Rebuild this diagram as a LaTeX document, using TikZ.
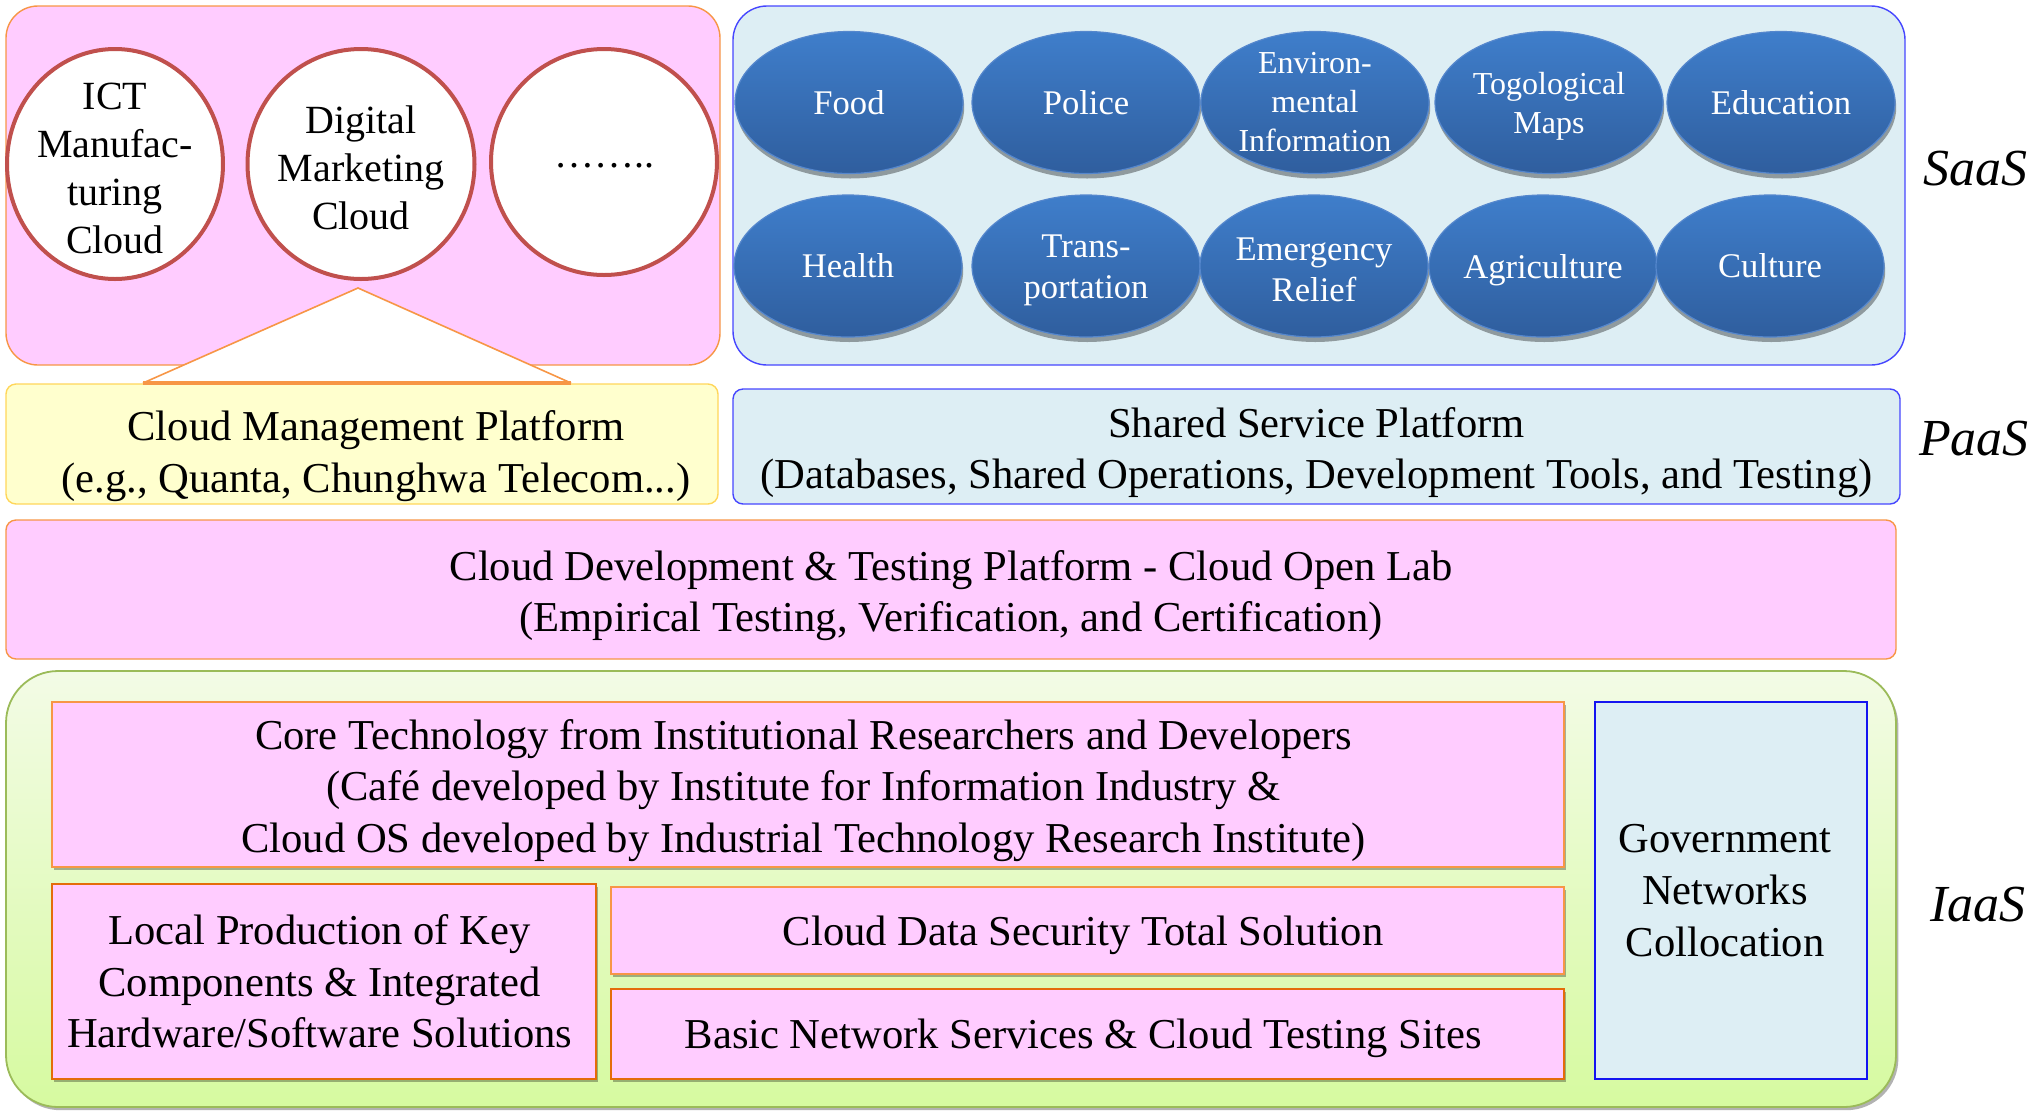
\documentclass[tikz,border=0pt]{standalone}
\usepackage{fontspec}
\setmainfont{Liberation Serif}
\usetikzlibrary{shapes.geometric,shadows,calc}
\definecolor{pinkfill}{RGB}{255,204,255}
\definecolor{orangeline}{RGB}{247,150,70}
\definecolor{darkorange}{RGB}{228,108,10}
\definecolor{yellowfill}{RGB}{255,255,206}
\definecolor{yellowline}{RGB}{255,214,90}
\definecolor{bluefill}{RGB}{221,238,244}
\definecolor{blueline}{RGB}{70,70,255}
\definecolor{elltop}{RGB}{63,126,203}
\definecolor{ellbot}{RGB}{47,94,158}
\definecolor{ellline}{RGB}{85,135,205}
\definecolor{circline}{RGB}{192,80,77}
\definecolor{greentop}{RGB}{243,251,230}
\definecolor{greenbot}{RGB}{214,250,160}
\definecolor{greenline}{RGB}{155,187,89}
\definecolor{govline}{RGB}{20,20,240}
\begin{document}
\begin{tikzpicture}[x=0.5pt,y=-0.5pt,
  txt/.style={font=\fontsize{21.3}{25.8}\selectfont, align=center, text=black},
  boxtext/.style={txt, xshift=-2.2pt, yshift=-3pt},
  pinkbox/.style={rectangle, draw=orangeline, fill=pinkfill, line width=0.7pt, inner sep=0pt},
  bluebox/.style={rectangle, draw=blueline, fill=bluefill, line width=0.7pt, inner sep=0pt},
  yellowbox/.style={rectangle, draw=yellowline, fill=yellowfill, line width=0.7pt, inner sep=0pt},
  softshadow/.style={drop shadow={shadow xshift=0.8pt, shadow yshift=-1.6pt, opacity=0.3, fill=black}},
  cloudcirc/.style={ellipse, draw=circline, line width=2pt, fill=white, inner sep=0pt},
  circtext/.style={font=\fontsize{20}{24}\selectfont, align=center, text=black, yshift=-2pt},
  svc/.style={ellipse, draw=ellline, line width=0.6pt, top color=elltop, bottom color=ellbot,
    minimum width=114pt, minimum height=71pt, inner sep=0pt,
    drop shadow={shadow xshift=0.6pt, shadow yshift=-2.5pt, opacity=0.35, fill=black}},
  svctext/.style={font=\fontsize{17.3}{20.5}\selectfont, align=center, text=white},
  svcsmall/.style={font=\fontsize{16}{19.5}\selectfont, align=center, text=white},
  layer/.style={font=\fontsize{26}{30}\selectfont\itshape, text=black}
]
\useasboundingbox (0,0) rectangle (2035,1110);

% ---------- SaaS ----------
\node[pinkbox, rounded corners=16pt, minimum width=357pt, minimum height=179.5pt] (saaspink) at (363,185.5) {};
\node[bluebox, rounded corners=17pt, minimum width=586pt, minimum height=179.5pt] (saasblue) at (1319,185.5) {};

\node[cloudcirc, minimum width=108pt, minimum height=115pt,
  label={[circtext]center:{ICT\\Manufac-\\turing\\Cloud}}] (ict) at (115,164) {};
\node[cloudcirc, minimum width=113.5pt, minimum height=115pt,
  label={[circtext]center:{Digital\\Marketing\\Cloud}}] (digital) at (361,164) {};
\node[cloudcirc, minimum width=113pt, minimum height=113pt,
  label={[circtext]center:{……..}}] (more) at (604,162) {};

\node[svc, label={[svctext]center:{Food}}] (food) at (849,102.5) {};
\node[svc, label={[svctext]center:{Police}}] (police) at (1086,102.5) {};
\node[svc, label={[svcsmall]center:{Environ-\\mental\\Information}}] (environ) at (1315,102.5) {};
\node[svc, label={[svcsmall, yshift=-2pt]center:{Togological\\Maps}}] (maps) at (1549,102.5) {};
\node[svc, label={[svctext]center:{Education}}] (education) at (1781,102.5) {};

\node[svc, label={[svctext]center:{Health}}] (health) at (848,266) {};
\node[svc, label={[svctext, yshift=-2pt]center:{Trans-\\portation}}] (transport) at (1086,266) {};
\node[svc, label={[svctext, yshift=-2pt]center:{Emergency\\Relief}}] (emergency) at (1314,266) {};
\node[svc, label={[svctext, yshift=-2pt]center:{Agriculture}}] (agri) at (1543,266) {};
\node[svc, label={[svctext]center:{Culture}}] (culture) at (1770,266) {};

\node[layer] (saas) at (1975,169) {SaaS};

% ---------- PaaS ----------
\node[yellowbox, rounded corners=5pt, minimum width=356pt, minimum height=60pt] (cmp) at (362,444) {};
\node[txt] (cmptext) at (376,456) {Cloud Management Platform\\(e.g., Quanta, Chunghwa Telecom...)};

\coordinate (apex) at ($(digital.south)+(-3,7)$);
\coordinate (trileft) at (143,383);
\coordinate (triright) at (571,383);
\fill[white] (apex) -- (trileft) -- (triright) -- cycle;
\draw[orangeline, line width=0.8pt] (trileft) -- (apex) -- (triright);
\draw[orangeline, line width=1.6pt] (trileft) -- (triright);

\node[bluebox, rounded corners=5pt, minimum width=583.5pt, minimum height=57.5pt,
  label={[txt, yshift=-3pt]center:{Shared Service Platform\\(Databases, Shared Operations, Development Tools, and Testing)}}] (ssp) at (1316.5,446.5) {};

\node[layer] (paas) at (1974,439) {PaaS};

% ---------- Cloud Open Lab ----------
\node[pinkbox, rounded corners=5pt, minimum width=945pt, minimum height=69.5pt,
  label={[txt, yshift=-3pt]center:{Cloud Development \& Testing Platform - Cloud Open Lab\\(Empirical Testing, Verification, and Certification)}}] (col) at (951,589.5) {};

% ---------- IaaS ----------
\node[rectangle, draw=greenline, line width=0.9pt, top color=greentop, bottom color=greenbot,
  rounded corners=26pt, minimum width=945pt, minimum height=218pt, inner sep=0pt,
  drop shadow={shadow xshift=1.2pt, shadow yshift=-1.6pt, opacity=0.3, fill=black}] (iaasbox) at (951,889) {};

\node[pinkbox, softshadow, minimum width=756pt, minimum height=82.5pt,
  label={[boxtext]center:{Core Technology from Institutional Researchers and Developers\\(Café developed by Institute for Information Industry \&\\Cloud OS developed by Industrial Technology Research Institute)}}] (core) at (808,784.5) {};
\node[pinkbox, softshadow, draw=darkorange, line width=0.9pt, minimum width=272pt, minimum height=97.5pt,
  label={[boxtext, yshift=3pt]center:{Local Production of Key\\Components \& Integrated\\Hardware/Software Solutions}}] (local) at (324,981.5) {};
\node[pinkbox, softshadow, minimum width=476.5pt, minimum height=43.5pt,
  label={[boxtext, yshift=0.5pt]center:{Cloud Data Security Total Solution}}] (security) at (1087.5,930.5) {};
\node[pinkbox, softshadow, draw=darkorange, line width=0.9pt, minimum width=476.5pt, minimum height=45pt,
  label={[boxtext, yshift=1pt]center:{Basic Network Services \& Cloud Testing Sites}}] (basic) at (1087.5,1034) {};
\node[rectangle, draw=govline, fill=bluefill, line width=1pt, inner sep=0pt,
  minimum width=136pt, minimum height=188.5pt,
  label={[txt, xshift=-3pt]center:{Government\\Networks\\Collocation}}] (gov) at (1731,890.5) {};

\node[layer] (iaas) at (1978,905) {IaaS};
\end{tikzpicture}
\end{document}
